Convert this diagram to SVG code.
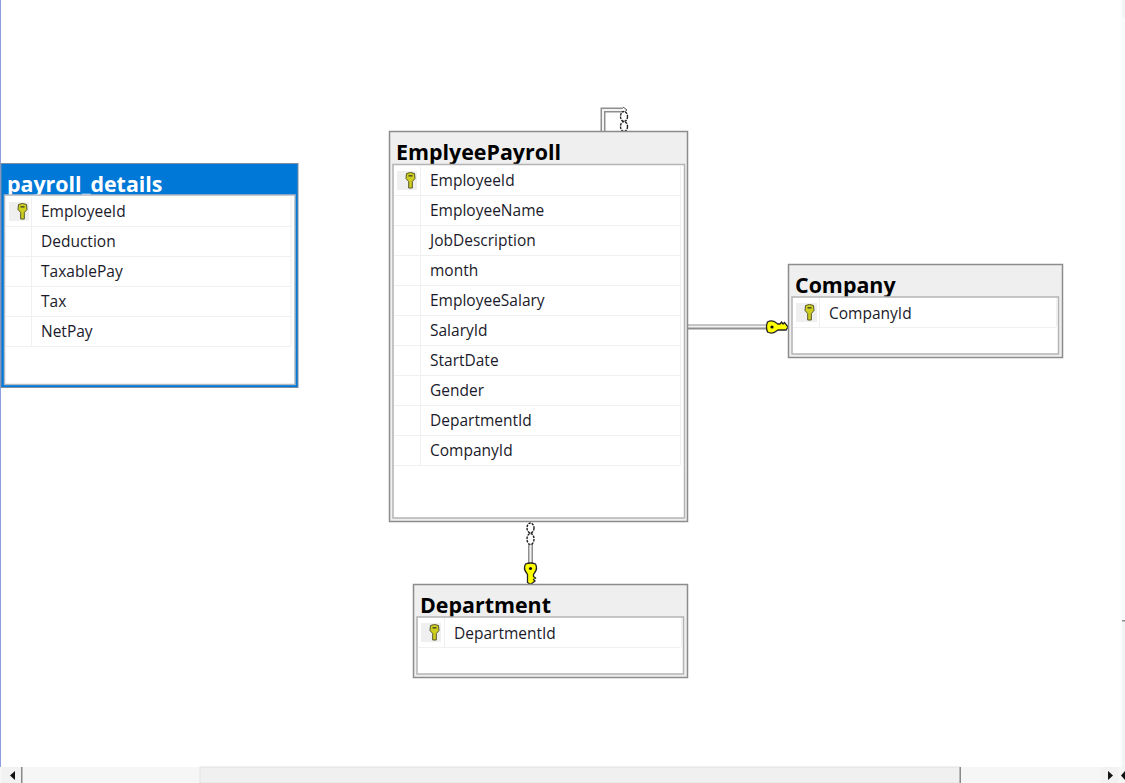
<svg xmlns="http://www.w3.org/2000/svg" width="1125" height="783" viewBox="0 0 1125 783">
<style>
.outer{fill:#efefef;stroke:#8c8c8c;stroke-width:1.5}
.inner{fill:#fff;stroke:#b4b4b4;stroke-width:1.5}
.title{font:bold 21.4px "Open Sans","Noto Sans",sans-serif;fill:#000}
.ttl-w{fill:#fff}
.f{font:15.5px "Open Sans","Noto Sans",sans-serif;fill:#1a1a2a}
.sep{stroke:#f0f0f0;stroke-width:1;fill:none}
.kc{fill:#efefef}
.cg{fill:none;stroke:#8f8f8f;stroke-width:5}
.cw{fill:none;stroke:#f4f4f4;stroke-width:2}
.o{fill:#fff;stroke:#222;stroke-width:1.4;stroke-dasharray:2.500 1}
</style>
<defs>
<g id="rk"><path d="M-4 -7.5Q0 -9.5 4 -7.5L4.5 -2.5L1.8 0.5L1.8 7L-1.8 7L-1.8 0.5L-4.5 -2.5Z" fill="#cfcf20" stroke="#55552a" stroke-width="1"/><rect x="-2" y="-6" width="4" height="1.6" fill="#55552a"/></g>
<g id="ck"><path d="M-5 -9.5Q0 -11.5 5 -9.5Q7.5 -5 4 -0.5L3 1L3 3L5 4.5L3 6L4.5 7.5L0 11L-3 9L-3 1L-4 -0.5Q-7.5 -5 -5 -9.5Z" fill="#ffff00" stroke="#222" stroke-width="1.3"/><circle cx="0" cy="-5" r="1.6" fill="#111"/></g>
</defs>
<rect width="1125" height="783" fill="#fff"/>
<rect x="0" y="0" width="1" height="767" fill="#8d9fe0"/>
<g id="connectors">
<path class="cg" d="M603 131V110H623"/><path class="cw" d="M603 131V110H623"/>
<path d="M623 107L627 110L623 113" fill="none" stroke="#555" stroke-width="1"/>
<ellipse class="o" cx="624" cy="116.500" rx="3.500" ry="5"/><ellipse class="o" cx="624" cy="126.500" rx="3.500" ry="5"/>
<path class="cg" d="M688 327H766"/><path class="cw" d="M688 326.500H766"/>
<use href="#ck" transform="translate(777 327) rotate(-90)"/>
<path class="cg" d="M530.500 544V565"/><path class="cw" d="M530.500 544V565"/>
<ellipse class="o" cx="530.500" cy="528" rx="3.500" ry="5"/><ellipse class="o" cx="530.500" cy="539" rx="3.500" ry="5.500"/>
<use href="#ck" transform="translate(530.500 573.500)"/>
</g>
<g id="payroll-details">
<rect x="1" y="163.500" width="297" height="224" fill="#0078d7" stroke="#7f8ea0" stroke-width="1"/>
<text class="title ttl-w" x="7" y="192">payroll_details</text>
<rect x="4.500" y="195" width="290.500" height="189.500" fill="#fff" stroke="#b0b8c4" stroke-width="1.500"/>
<path class="sep" d="M6 226.500H291M6 256.500H291M6 286.500H291M6 316.500H291M6 346.500H291M31.500 197V346M291 197V346"/>
<rect class="kc" x="9" y="202" width="20" height="19"/><use href="#rk" x="22.500" y="212"/>
<text class="f" x="41" y="217">EmployeeId</text>
<text class="f" x="41" y="247">Deduction</text>
<text class="f" x="41" y="277">TaxablePay</text>
<text class="f" x="41" y="307">Tax</text>
<text class="f" x="41" y="337">NetPay</text>
</g>
<g id="emplyee-payroll">
<rect class="outer" x="389.500" y="131.500" width="298" height="390"/>
<text class="title" x="396" y="160">EmplyeePayroll</text>
<rect class="inner" x="393" y="164.500" width="291.500" height="353.500"/>
<path class="sep" d="M394 195.500H680M394 225.500H680M394 255.500H680M394 285.500H680M394 315.500H680M394 345.500H680M394 375.500H680M394 405.500H680M394 435.500H680M394 465.500H680M420.500 166V465M680.500 166V465"/>
<rect class="kc" x="397" y="171" width="20" height="19"/><use href="#rk" x="410.500" y="181"/>
<text class="f" x="430" y="186">EmployeeId</text>
<text class="f" x="430" y="216">EmployeeName</text>
<text class="f" x="430" y="246">JobDescription</text>
<text class="f" x="430" y="276">month</text>
<text class="f" x="430" y="306">EmployeeSalary</text>
<text class="f" x="430" y="336">SalaryId</text>
<text class="f" x="430" y="366">StartDate</text>
<text class="f" x="430" y="396">Gender</text>
<text class="f" x="430" y="426">DepartmentId</text>
<text class="f" x="430" y="456">CompanyId</text>
</g>
<g id="company">
<rect class="outer" x="788.500" y="264.500" width="274" height="93"/>
<text class="title" x="795" y="293">Company</text>
<rect class="inner" x="792" y="297" width="266.500" height="57"/>
<path class="sep" d="M793 327.500H1056M819.500 298V327M1056.500 298V327"/>
<rect class="kc" x="796" y="303" width="21" height="19"/><use href="#rk" x="809.500" y="313"/>
<text class="f" x="829" y="318.500">CompanyId</text>
</g>
<g id="department">
<rect class="outer" x="413.500" y="584.500" width="274" height="93"/>
<text class="title" x="420" y="613">Department</text>
<rect class="inner" x="417" y="617" width="266.500" height="57"/>
<path class="sep" d="M418 647.500H681M444.500 618V647M681.500 618V647"/>
<rect class="kc" x="421" y="623" width="20" height="19"/><use href="#rk" x="434.500" y="633"/>
<text class="f" x="454" y="638.500">DepartmentId</text>
</g>
<rect x="0" y="767" width="1125" height="16" fill="#f6f6f6"/>
<rect x="2" y="767" width="19" height="16" fill="#f2f2f2"/>
<rect x="21" y="767" width="1.500" height="16" fill="#8a8a8a"/>
<path d="M15 771V780L10 775.500Z" fill="#111"/>
<rect x="200" y="767" width="760" height="16" fill="#f0f0f0" stroke="#e2e2e2" stroke-width="1"/>
<rect x="959.500" y="767" width="1.500" height="16" fill="#8a8a8a"/>
<rect x="1101" y="767" width="17" height="16" fill="#f2f2f2"/>
<path d="M1108 771V780L1113 775.500Z" fill="#111"/>
<rect x="1122" y="0" width="3" height="783" fill="#f4f4f4"/>
<rect x="1122" y="18" width="3" height="603" fill="#fafafa"/>
<rect x="1122" y="620" width="3" height="1.500" fill="#8a8a8a"/>
<path d="M1125 771L1121 775.500L1125 780Z" fill="#111"/>
</svg>
